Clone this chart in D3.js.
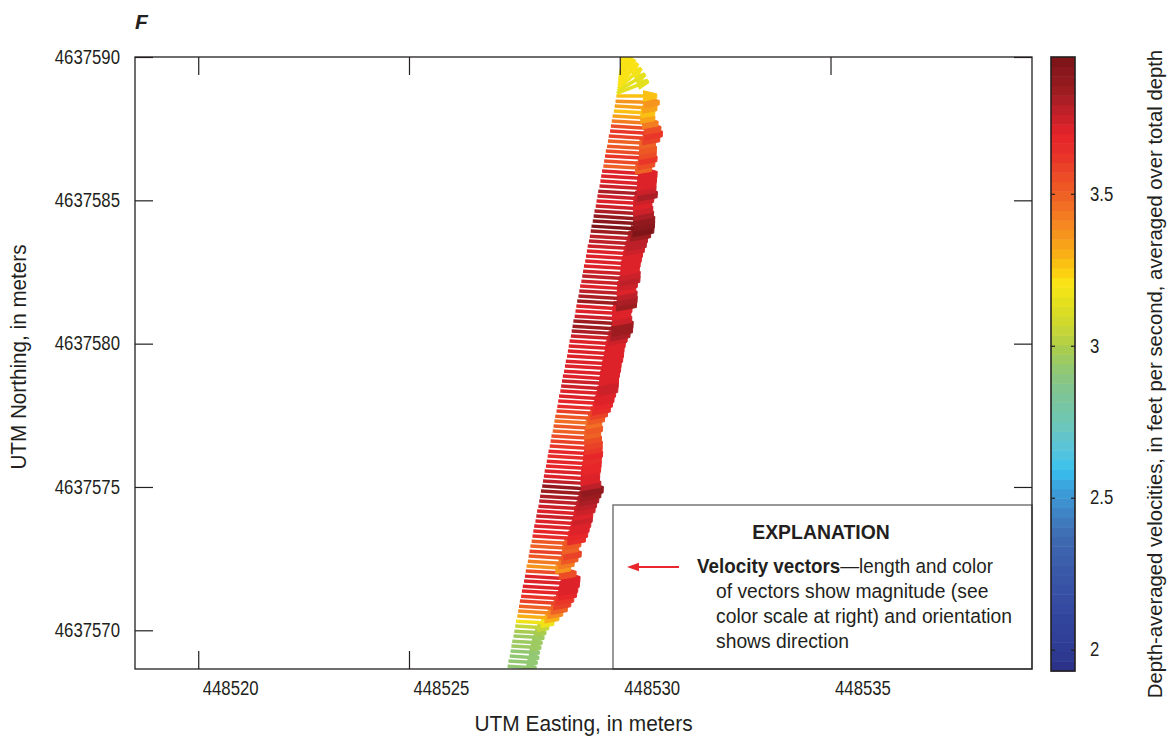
<!DOCTYPE html>
<html>
<head>
<meta charset="utf-8">
<script src="https://cdn.jsdelivr.net/npm/d3@7"></script>
<style>
  body { margin: 0; background: #fff; }
  svg { display: block; font-family: "Liberation Sans", Arial, sans-serif; }
</style>
</head>
<body>
<svg id="chart" width="1173" height="738"></svg>
<script>
// ADCP ensemble positions along the transect (UTM, meters), bottom to top
const northing = [
  4637568.75, 4637568.93, 4637569.10, 4637569.28, 4637569.45, 4637569.62, 4637569.80, 4637569.97, 4637570.15, 4637570.32,
  4637570.50, 4637570.67, 4637570.84, 4637571.02, 4637571.19, 4637571.37, 4637571.54, 4637571.72, 4637571.89, 4637572.07,
  4637572.24, 4637572.41, 4637572.59, 4637572.76, 4637572.94, 4637573.11, 4637573.29, 4637573.46, 4637573.64, 4637573.81,
  4637573.99, 4637574.16, 4637574.33, 4637574.51, 4637574.68, 4637574.86, 4637575.03, 4637575.21, 4637575.38, 4637575.56,
  4637575.73, 4637575.90, 4637576.08, 4637576.25, 4637576.43, 4637576.60, 4637576.78, 4637576.95, 4637577.13, 4637577.30,
  4637577.47, 4637577.65, 4637577.82, 4637578.00, 4637578.17, 4637578.35, 4637578.52, 4637578.70, 4637578.87, 4637579.04,
  4637579.22, 4637579.39, 4637579.57, 4637579.74, 4637579.92, 4637580.09, 4637580.27, 4637580.44, 4637580.61, 4637580.79,
  4637580.96, 4637581.14, 4637581.31, 4637581.49, 4637581.66, 4637581.84, 4637582.01, 4637582.18, 4637582.36, 4637582.53,
  4637582.71, 4637582.88, 4637583.06, 4637583.23, 4637583.41, 4637583.58, 4637583.75, 4637583.93, 4637584.10, 4637584.28,
  4637584.45, 4637584.63, 4637584.80, 4637584.98, 4637585.15, 4637585.32, 4637585.50, 4637585.67, 4637585.85, 4637586.02,
  4637586.20, 4637586.37, 4637586.55, 4637586.72, 4637586.89, 4637587.07, 4637587.24, 4637587.42, 4637587.59, 4637587.77,
  4637587.94, 4637588.12, 4637588.29, 4637588.46, 4637588.64, 4637588.73, 4637588.81, 4637588.90, 4637588.99, 4637589.08,
  4637589.16, 4637589.25, 4637589.34, 4637589.42, 4637589.51, 4637589.60, 4637589.68, 4637589.77
];
const easting = [
  448527.34, 448527.36, 448527.39, 448527.41, 448527.43, 448527.45, 448527.48, 448527.50, 448527.52, 448527.54,
  448527.57, 448527.59, 448527.61, 448527.63, 448527.66, 448527.68, 448527.70, 448527.73, 448527.75, 448527.77,
  448527.79, 448527.82, 448527.84, 448527.86, 448527.88, 448527.91, 448527.93, 448527.95, 448527.97, 448528.00,
  448528.02, 448528.04, 448528.07, 448528.09, 448528.11, 448528.13, 448528.16, 448528.18, 448528.20, 448528.22,
  448528.25, 448528.27, 448528.29, 448528.31, 448528.34, 448528.36, 448528.38, 448528.41, 448528.43, 448528.45,
  448528.47, 448528.50, 448528.52, 448528.54, 448528.56, 448528.59, 448528.61, 448528.63, 448528.65, 448528.68,
  448528.70, 448528.72, 448528.75, 448528.77, 448528.79, 448528.81, 448528.84, 448528.86, 448528.88, 448528.90,
  448528.93, 448528.95, 448528.97, 448528.99, 448529.02, 448529.04, 448529.06, 448529.09, 448529.11, 448529.13,
  448529.15, 448529.18, 448529.20, 448529.22, 448529.24, 448529.27, 448529.29, 448529.31, 448529.33, 448529.36,
  448529.38, 448529.40, 448529.43, 448529.45, 448529.47, 448529.49, 448529.52, 448529.54, 448529.56, 448529.58,
  448529.61, 448529.63, 448529.65, 448529.67, 448529.70, 448529.72, 448529.74, 448529.77, 448529.79, 448529.81,
  448529.83, 448529.86, 448529.88, 448529.90, 448529.92, 448529.93, 448529.95, 448529.96, 448529.97, 448529.98,
  448529.99, 448530.00, 448530.01, 448530.03, 448530.04, 448530.05, 448530.06, 448530.07
];
// Depth-averaged speed, feet per second
const speed = [
  2.91, 2.92, 2.93, 2.92, 2.94, 2.95, 2.97, 3.00, 3.06, 3.19,
  3.30, 3.39, 3.50, 3.58, 3.63, 3.69, 3.70, 3.71, 3.70, 3.56,
  3.37, 3.44, 3.53, 3.60, 3.50, 3.53, 3.64, 3.68, 3.70, 3.71,
  3.73, 3.72, 3.75, 3.77, 3.81, 3.85, 3.88, 3.78, 3.72, 3.70,
  3.69, 3.68, 3.66, 3.67, 3.62, 3.60, 3.55, 3.49, 3.52, 3.47,
  3.53, 3.58, 3.64, 3.68, 3.70, 3.71, 3.75, 3.74, 3.72, 3.71,
  3.72, 3.71, 3.72, 3.72, 3.71, 3.72, 3.74, 3.80, 3.85, 3.84,
  3.76, 3.71, 3.72, 3.83, 3.81, 3.78, 3.72, 3.73, 3.78, 3.76,
  3.71, 3.70, 3.71, 3.72, 3.75, 3.77, 3.78, 3.85, 3.92, 3.90,
  3.88, 3.82, 3.76, 3.71, 3.74, 3.82, 3.74, 3.72, 3.71, 3.70,
  3.50, 3.57, 3.61, 3.56, 3.53, 3.48, 3.58, 3.62, 3.55, 3.44,
  3.32, 3.28, 3.32, 3.36, 3.26, 3.14, 3.16, 3.18, 3.20, 3.20,
  3.21, 3.20, 3.20, 3.21, 3.20, 3.21, 3.20, 3.20
];
// Flow direction, degrees counterclockwise from east
const direction = [
  -5, -5, -5, -5, -5, -5, -5, -5, -5, -5,
  -5, -5, -5, -5, -5, -5, -5, -5, -5, -5,
  -5, -5, -5, -5, -5, -5, -5, -5, -5, -5,
  -5, -5, -5, -5, -5, -5, -5, -5, -5, -5,
  -5, -5, -5, -5, -5, -5, -5, -5, -5, -5,
  -5, -5, -5, -5, -5, -5, -5, -5, -5, -5,
  -5, -5, -5, -5, -5, -5, -5, -5, -5, -5,
  -5, -5, -5, -5, -5, -5, -5, -5, -5, -5,
  -5, -5, -5, -5, -5, -5, -5, -5, -5, -5,
  -5, -5, -5, -5, -5, -5, -5, -5, -5, -5,
  -5, -5, -5, -5, -5, -5, -5, -5, -5, -5,
  -5, -5, -5, -3, 0, 30, 42, 52, 60, 66,
  72, 77, 81, 84, 86, 88, 89, 90
];

const xTicks = [448520, 448525, 448530, 448535];
const yTicks = [4637570, 4637575, 4637580, 4637585, 4637590];
const colorTicks = [2, 2.5, 3, 3.5];

// Colormap control points (value in ft/s, color)
const stopValues = [1.93, 1.99, 2.12, 2.25, 2.38, 2.47, 2.54, 2.59, 2.67, 2.75, 2.83, 2.91, 2.99,
                    3.04, 3.12, 3.20, 3.26, 3.31, 3.39, 3.47, 3.55, 3.63, 3.70, 3.77, 3.84, 3.95];
const stopColors = ["#2b2f85", "#2e3a92", "#33479e", "#3a58a8", "#3f6cb2", "#3f8ccc", "#3aa4dc", "#38c1ee",
                    "#5cc4d8", "#6ec6b4", "#7cc49a", "#8ec77a", "#a8cc4e", "#c3d43a", "#dddd22", "#f8e616",
                    "#fcc710", "#f9ac18", "#f58b20", "#f06a24", "#ec4f26", "#e8322a", "#e52229", "#c0202a",
                    "#9c1c20", "#7a1418"];

const svg = d3.select("#chart");
const W = 1173, H = 738;
const plot = { left: 135, right: 1032, top: 57, bottom: 669 };
const ink = "#231f20";
const NARROW = 0.86;   // horizontal compression for a condensed look

const x = d3.scaleLinear().domain([448518.50, 448539.78]).range([plot.left, plot.right]);
const y = d3.scaleLinear().domain([4637568.65, 4637590]).range([plot.bottom, plot.top]);

// Color scale: 64 discrete bands
const cMin = 1.93, cMax = 3.95, nBands = 64;
const smooth = d3.scaleLinear().domain(stopValues).range(stopColors).interpolate(d3.interpolateRgb);
const bandColors = d3.range(nBands).map(i => smooth(cMin + (i + 0.5) * (cMax - cMin) / nBands));
const color = d3.scaleQuantize().domain([cMin, cMax]).range(bandColors);

// Arrow length in meters from speed
const lengthScale = d3.scaleLinear().domain([2.06, 3.90]).range([0, 1.47]);

// Squeeze text horizontally about its anchor
function condense(sel, k) {
  sel.each(function () {
    const t = d3.select(this);
    const x0 = +(t.attr("x") || 0);
    t.attr("x", x0 / k).attr("transform", `scale(${k},1)`);
  });
}
function label(parent, px, py, txt, size, opts = {}) {
  const g = parent.append("g").attr("transform", `translate(${px},${py})${opts.rotate ? ` rotate(${opts.rotate})` : ""}`);
  const t = g.append("text").attr("transform", `scale(${opts.k || 1},1)`)
    .attr("text-anchor", opts.anchor || "start")
    .style("font-size", size + "px").attr("fill", ink);
  if (opts.weight) t.style("font-weight", opts.weight);
  if (opts.italic) t.style("font-style", "italic");
  t.text(txt);
  return t;
}

svg.append("rect").attr("width", W).attr("height", H).attr("fill", "#fff");

svg.append("defs").append("clipPath").attr("id", "plotClip")
  .append("rect")
  .attr("x", plot.left).attr("y", plot.top)
  .attr("width", plot.right - plot.left).attr("height", plot.bottom - plot.top);

// Velocity vectors
const vectors = northing.map((n, i) => {
  const L = lengthScale(speed[i]);
  const a = direction[i] * Math.PI / 180;
  return {
    x0: x(easting[i]), y0: y(n),
    x1: x(easting[i] + L * Math.cos(a)), y1: y(n + L * Math.sin(a)),
    s: speed[i]
  };
});

const vg = svg.append("g").attr("clip-path", "url(#plotClip)");
vectors.forEach(v => {
  const dx = v.x1 - v.x0, dy = v.y1 - v.y0;
  const len = Math.hypot(dx, dy);
  if (len < 0.5) return;
  const ux = dx / len, uy = dy / len;
  const hl = 0.33 * len;
  const hw = Math.max(3, 0.13 * len), tw = 0.4 * hw;   // blunt head: base and tip half-widths
  const bx = v.x1 - ux * hl, by = v.y1 - uy * hl;
  const c = color(v.s);
  vg.append("line")
    .attr("x1", v.x0).attr("y1", v.y0).attr("x2", bx + ux * 2).attr("y2", by + uy * 2)
    .attr("stroke", c).attr("stroke-width", 3.5);
  const pts = [
    [v.x1 - uy * tw, v.y1 + ux * tw],
    [bx - uy * hw, by + ux * hw],
    [bx + uy * hw, by - ux * hw],
    [v.x1 + uy * tw, v.y1 - ux * tw]
  ];
  vg.append("polygon")
    .attr("points", pts.map(p => p.join(",")).join(" "))
    .attr("fill", c).attr("stroke", c).attr("stroke-width", 1).attr("stroke-linejoin", "round");
});

// Axes with inward ticks on all four sides
const tickLen = 18;
const fmt = d3.format("d");

const gBottom = svg.append("g").attr("transform", `translate(0,${plot.bottom})`)
  .call(d3.axisBottom(x).tickValues(xTicks).tickFormat(fmt).tickSizeInner(-tickLen).tickSizeOuter(0).tickPadding(12));
gBottom.selectAll("text").attr("text-anchor", "start").attr("x", 4).attr("dy", "0.71em")
  .style("font-size", "19.5px").attr("fill", ink).call(condense, NARROW);

const gTop = svg.append("g").attr("transform", `translate(0,${plot.top})`)
  .call(d3.axisTop(x).tickValues(xTicks).tickFormat("").tickSizeInner(-tickLen).tickSizeOuter(0));

const gLeft = svg.append("g").attr("transform", `translate(${plot.left},0)`)
  .call(d3.axisLeft(y).tickValues(yTicks).tickFormat(fmt).tickSizeInner(-tickLen).tickSizeOuter(0).tickPadding(15));
gLeft.selectAll("text").style("font-size", "19.5px").attr("fill", ink).call(condense, NARROW);

const gRight = svg.append("g").attr("transform", `translate(${plot.right},0)`)
  .call(d3.axisRight(y).tickValues(yTicks).tickFormat("").tickSizeInner(-tickLen).tickSizeOuter(0));

[gBottom, gTop, gLeft, gRight].forEach(g => {
  g.select(".domain").remove();
  g.selectAll(".tick line").attr("stroke", ink).attr("stroke-width", 1.2);
});

// Explanation box
const lg = svg.append("g");
lg.append("rect")
  .attr("x", 613).attr("y", 505).attr("width", plot.right - 613).attr("height", plot.bottom - 505)
  .attr("fill", "#fff").attr("stroke", "#6d6e71").attr("stroke-width", 1.4);
label(lg, 821, 539, "EXPLANATION", 20, { anchor: "middle", weight: "bold", k: 0.97 });
lg.append("line").attr("x1", 679).attr("y1", 567).attr("x2", 636).attr("y2", 567)
  .attr("stroke", "#e8262c").attr("stroke-width", 2.2);
lg.append("polygon").attr("points", "627,567 639,562.8 639,571.2").attr("fill", "#e8262c");
const l1 = label(lg, 697, 573, "", 19.5, { k: 0.965 });
l1.append("tspan").style("font-weight", "bold").text("Velocity vectors");
l1.append("tspan").text("\u2014length and color");
label(lg, 716, 598, "of vectors show magnitude (see", 19.5, { k: 0.99 });
label(lg, 716, 623, "color scale at right) and orientation", 19.5, { k: 0.99 });
label(lg, 716, 648, "shows direction", 19.5, { k: 0.99 });

// Plot frame
svg.append("rect")
  .attr("x", plot.left).attr("y", plot.top)
  .attr("width", plot.right - plot.left).attr("height", plot.bottom - plot.top)
  .attr("fill", "none").attr("stroke", ink).attr("stroke-width", 1.3);

// Axis titles and panel letter
label(svg, (plot.left + plot.right) / 2, 731, "UTM Easting, in meters", 22, { anchor: "middle", k: 0.95 });
label(svg, 26, 357, "UTM Northing, in meters", 22, { anchor: "middle", k: 0.94, rotate: -90 });
label(svg, 135, 29, "F", 21, { weight: "bold", italic: true });

// Color bar
const cb = { left: 1051, right: 1075, top: 57, bottom: 671 };
const cbScale = d3.scaleLinear().domain([cMin, cMax]).range([cb.bottom, cb.top]);
const bandEdges = d3.range(nBands + 1).map(i => cMin + i * (cMax - cMin) / nBands);
svg.append("g").selectAll("rect").data(bandColors).join("rect")
  .attr("x", cb.left).attr("width", cb.right - cb.left)
  .attr("y", (d, i) => cbScale(bandEdges[i + 1]))
  .attr("height", (d, i) => cbScale(bandEdges[i]) - cbScale(bandEdges[i + 1]) + 0.5)
  .attr("fill", d => d);

const cbRight = svg.append("g").attr("transform", `translate(${cb.right},0)`)
  .call(d3.axisRight(cbScale).tickValues(colorTicks).tickFormat(d3.format("")).tickSizeInner(-4).tickSizeOuter(0).tickPadding(15));
cbRight.selectAll("text").style("font-size", "19.5px").attr("fill", ink).call(condense, NARROW);
const cbLeft = svg.append("g").attr("transform", `translate(${cb.left},0)`)
  .call(d3.axisLeft(cbScale).tickValues(colorTicks).tickFormat("").tickSizeInner(-4).tickSizeOuter(0));
[cbRight, cbLeft].forEach(g => {
  g.select(".domain").remove();
  g.selectAll(".tick line").attr("stroke", ink).attr("stroke-width", 1.2);
});
svg.append("rect").attr("x", cb.left).attr("y", cb.top)
  .attr("width", cb.right - cb.left).attr("height", cb.bottom - cb.top)
  .attr("fill", "none").attr("stroke", ink).attr("stroke-width", 1.6);

label(svg, 1162, 374, "Depth-averaged velocities, in feet per second, averaged over total depth", 20.3,
  { anchor: "middle", rotate: -90 });
</script>
</body>
</html>
